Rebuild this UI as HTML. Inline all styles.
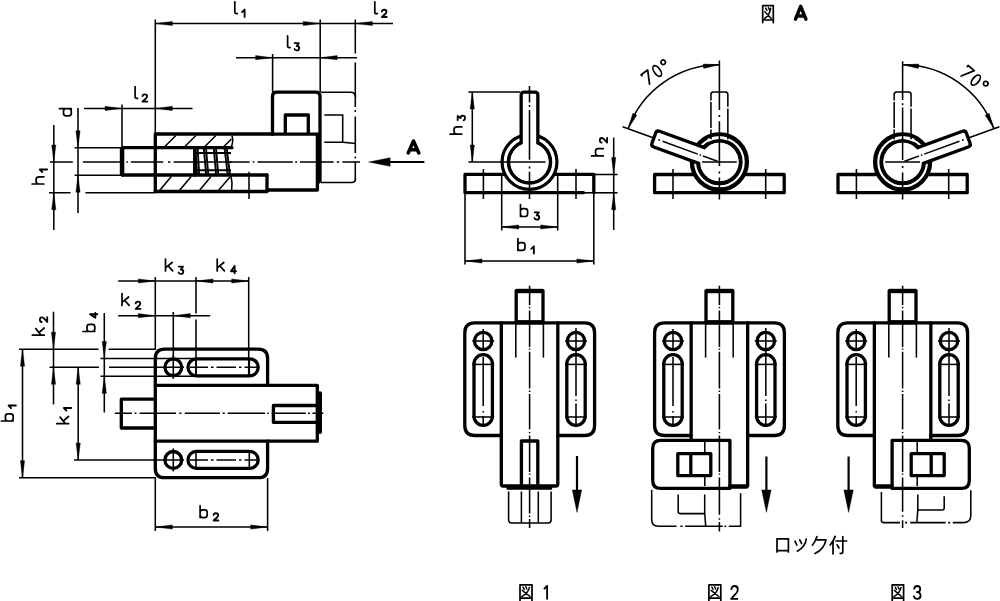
<!DOCTYPE html>
<html><head><meta charset="utf-8"><title>drawing</title>
<style>
html,body{margin:0;padding:0;background:#fff;}
svg{display:block}
.t{fill:none;stroke:#000;stroke-width:1.55}
.w{fill:none;stroke:#fff;stroke-width:3.2}
.t3{fill:none;stroke:#000;stroke-width:2.2}
.t2{fill:none;stroke:#000;stroke-width:1.9}
.k{fill:none;stroke:#000;stroke-width:3.3;stroke-linejoin:round;stroke-linecap:round}
.kc{fill:none;stroke:#000}
.kw{fill:#fff;stroke:#000;stroke-width:3.3;stroke-linejoin:round}
.k4r{fill:none;stroke:#000;stroke-width:4;stroke-linecap:round}
.k4{fill:none;stroke:#000;stroke-width:4.4;stroke-linecap:butt}
.a{fill:#000;stroke:#000;stroke-width:0.4;stroke-linejoin:round}
.g{fill:none;stroke:#000;stroke-width:1.7;stroke-linecap:round;stroke-linejoin:round}
.gd{fill:none;stroke:#000;stroke-width:1.85;stroke-linecap:round;stroke-linejoin:round}
.g7{fill:none;stroke:#000;stroke-width:1.7;stroke-linecap:round;stroke-linejoin:round}
.j{fill:none;stroke:#000;stroke-width:1.7;stroke-linecap:round;stroke-linejoin:round}
.j2{fill:none;stroke:#000;stroke-width:1.5;stroke-linecap:round;stroke-linejoin:round}
.A{fill:none;stroke:#000;stroke-width:3.5;stroke-linecap:round;stroke-linejoin:round}
.n{fill:none;stroke:#000;stroke-width:1.8;stroke-linecap:butt;stroke-linejoin:round}
</style></head>
<body>
<svg width="1000" height="601" viewBox="0 0 1000 601">
<rect width="1000" height="601" fill="#fff"/>
<g id="viewA">
<path class="t" d="M158.8,191.5L171.3,176.5M178.6,191.5L191.2,176.5M198.6,191.5L211,176.5M217.6,191.5L230,177M164.4,147L175.9,135.5M184.4,147L195.9,135.5M204.4,147L215.9,135.5M223.4,147L231.4,139"/>
<path class="t" d="M232,135.5Q233.8,142 230.8,148M230.8,175Q232.8,183 231.6,191"/>
<path class="t2" d="M194,153H231M194,170.3H231"/>
<path class="t2" d="M195.4,148L197.1,176M197.6,148L199.3,176M203.8,148L206.2,176M206,148L208.4,176M213.8,148L216.2,176M216,148L218.4,176M224.5,148L227.9,176M226.7,148L230.1,176"/>
<path class="t" d="M196,162L232,162"/>
<path class="k" d="M194.7,147.7V175"/>
<path class="k" d="M155.3,191.5V134H272.5"/>
<path class="k" d="M272.5,134V96.5Q272.5,92.2 276.8,92.2H315.7Q320,92.2 320,96.5V181"/>
<path class="k" d="M272.5,134.2H318"/>
<path class="k" d="M285.3,133.4V115H308.3V133.4"/>
<path class="k" d="M317.4,134.5V190H267V175"/>
<path class="k" d="M318.8,134.5V182"/>
<path class="k" d="M155.3,191.5H267"/>
<path class="k" d="M155.3,147.7H232M122.5,175H267"/>
<path class="k" d="M155.3,147.7H122.5V175"/>
<path class="k4" d="M122,147.7V175"/>
<path class="t" d="M249,171.7L249,199"/>
<path class="t" d="M321,92.2H350.5Q355.5,92.2 355.5,97.2"/>
<path class="t" d="M321,182.4H352Q355.5,182.4 355.5,178.5"/>
<path class="t" d="M324.3,115H342.7V142.4M324.3,142.2H343L355.5,143.5"/>
<path class="t" d="M355.3,19.5L355.3,53.5M355.3,62.5L355.3,107M355.3,110L355.3,112M355.3,116.5L355.3,153M355.3,156.5L355.3,158.5M355.3,161L355.3,179.5"/>
<path class="t" d="M49.9,162L72.8,162M82.9,162L120.8,162M126.4,162L127.9,162M130.9,162L163.2,162M168,162L170.4,162M173.6,162L193.6,162M229.6,162L249.6,162M252.8,162L254.4,162M257.6,162L292.8,162M295.2,162L297.1,162M300,162L333.6,162M336.8,162L339.2,162M342.4,162L360,162"/>
<path class="t" d="M155.3,23.5L393,23.5"/>
<polygon class="a" points="155.3,23.5 172.3,21.4 172.3,25.6"/>
<polygon class="a" points="320.2,23.5 303.2,25.6 303.2,21.4"/>
<polygon class="a" points="355.3,23.5 372.3,21.4 372.3,25.6"/>
<path class="t" d="M155.3,19.5L155.3,134"/>
<path class="t" d="M320.2,19.5L320.2,92"/>
<path class="t" d="M236,57.7L357,57.7"/>
<polygon class="a" points="272.6,57.7 255.6,59.8 255.6,55.6"/>
<polygon class="a" points="320.2,57.7 337.2,55.6 337.2,59.8"/>
<path class="t" d="M272.6,54L272.6,92"/>
<path class="t" d="M84,108.4L192.5,108.4"/>
<polygon class="a" points="122,108.4 105,110.5 105,106.3"/>
<polygon class="a" points="155.3,108.4 172.3,106.3 172.3,110.5"/>
<path class="t" d="M122,104.5L122,147"/>
<path class="t" d="M78,108L78,213"/>
<polygon class="a" points="78,147.7 75.9,130.7 80.1,130.7"/>
<polygon class="a" points="78,175.2 80.1,192.2 75.9,192.2"/>
<path class="t" d="M74.6,147.7L122,147.7"/>
<path class="t" d="M74.6,175.2L122,175.2"/>
<path class="t" d="M53.8,125L53.8,230"/>
<polygon class="a" points="53.8,162 51.7,145 55.9,145"/>
<polygon class="a" points="53.8,192.7 55.9,209.7 51.7,209.7"/>
<path class="t" d="M49,192.7H70.5M85.5,192.7H155"/>
<path class="t3" d="M380,162L424.4,162"/>
<polygon class="a" points="368.6,162 390.1,157.7 390.1,166.3"/>
<path class="g" transform="translate(234.8,13.6)" d="M0,-11.8V-1.8Q0,0 1.8,0H2.5"/>
<path class="gd" transform="translate(242,16.9)" d="M0,-4.8L2.6,-7.3V0"/>
<path class="g" transform="translate(374.8,13.7)" d="M0,-11.8V-1.8Q0,0 1.8,0H2.5"/>
<path class="gd" transform="translate(381.7,17)" d="M0.2,-5.5Q0.4,-7.3 2.5,-7.3Q4.8,-7.3 4.8,-5.3Q4.8,-4.1 3.5,-3L0.2,0H5"/>
<path class="g" transform="translate(287.6,47.6)" d="M0,-11.8V-1.8Q0,0 1.8,0H2.5"/>
<path class="gd" transform="translate(294.2,50.4)" d="M0.5,-7.3H4.7L2.5,-4.4Q5,-4.4 5,-2.2Q5,0 2.6,0Q0.9,0 0.3,-1.4"/>
<path class="g" transform="translate(135.1,98.4)" d="M0,-11.8V-1.8Q0,0 1.8,0H2.5"/>
<path class="gd" transform="translate(142.3,101.6)" d="M0.2,-5.5Q0.4,-7.3 2.5,-7.3Q4.8,-7.3 4.8,-5.3Q4.8,-4.1 3.5,-3L0.2,0H5"/>
<path class="g" transform="translate(71.3,115.8) rotate(-90)" d="M7.1,-11.8V0M7.1,-5.3Q7.1,-7.8 4.6,-7.8H2.6Q0,-7.8 0,-5.2V-2.6Q0,0 2.6,0H4.6Q7.1,0 7.1,-2.5"/>
<path class="g" transform="translate(43.9,184) rotate(-90)" d="M0,-11.8V0M0,-5Q0,-7.8 2.8,-7.8H4.4Q7.2,-7.8 7.2,-5V0"/>
<path class="gd" transform="translate(47.1,172.1) rotate(-90)" d="M0,-4.8L2.6,-7.3V0"/>
</g>
<g id="viewB">
<path class="t" d="M114.8,413.3L132,413.3M134.6,413.3L136.4,413.3M139.7,413.3L176,413.3M179.3,413.3L181.5,413.3M184.8,413.3L220,413.3M222.6,413.3L224.8,413.3M227.7,413.3L265.1,413.3M267.3,413.3L268.8,413.3M271.7,413.3L305.8,413.3M308,413.3L309.8,413.3M312.4,413.3L323.4,413.3"/>
<path class="t" d="M173.3,355.8L173.3,378.8"/>
<path class="t" d="M196,358.3L196,376.3"/>
<path class="t" d="M249.3,358.3L249.3,376.3"/>
<path class="t" d="M190,367.3L208,367.3M211,367.3L213.5,367.3M216.5,367.3L236,367.3M239,367.3L241.5,367.3M244.5,367.3L259,367.3"/>
<path class="t" d="M173.3,448.4L173.3,471.4"/>
<path class="t" d="M196,450.9L196,468.9"/>
<path class="t" d="M249.3,450.9L249.3,468.9"/>
<path class="t" d="M190,459.9L208,459.9M211,459.9L213.5,459.9M216.5,459.9L236,459.9M239,459.9L241.5,459.9M244.5,459.9L259,459.9"/>
<path class="t" d="M118.2,281L248.7,281"/>
<polygon class="a" points="155.3,281 138.3,283.1 138.3,278.9"/>
<polygon class="a" points="196,281 213,278.9 213,283.1"/>
<polygon class="a" points="248.7,281 231.7,283.1 231.7,278.9"/>
<path class="t" d="M155.3,277L155.3,350"/>
<path class="t" d="M196,277V313.5M196,319.5V376.5"/>
<path class="t" d="M248.7,277L248.7,376.5"/>
<path class="t" d="M118.2,315.7L210.2,315.7"/>
<polygon class="a" points="155.3,315.7 138.3,317.8 138.3,313.6"/>
<polygon class="a" points="173.3,315.7 190.3,313.6 190.3,317.8"/>
<path class="t" d="M173.3,312L173.3,357"/>
<path class="t" d="M22.5,349.2L22.5,477.7"/>
<polygon class="a" points="22.5,349.2 24.6,366.2 20.4,366.2"/>
<polygon class="a" points="22.5,477.7 20.4,460.7 24.6,460.7"/>
<path class="t" d="M19,349.2H98.5M108.5,349.2H156"/>
<path class="t" d="M19,477.7L156,477.7"/>
<path class="t" d="M53.5,311.7L53.5,404.4"/>
<polygon class="a" points="53.5,349.2 51.4,332.2 55.6,332.2"/>
<polygon class="a" points="53.5,367.3 55.6,384.3 51.4,384.3"/>
<path class="t" d="M49.5,367.3H99M109,367.3H184"/>
<path class="t" d="M78.2,367.3L78.2,460"/>
<polygon class="a" points="78.2,367.3 80.3,384.3 76.1,384.3"/>
<polygon class="a" points="78.2,460 76.1,443 80.3,443"/>
<path class="t" d="M74,460L184,460"/>
<path class="t" d="M104.3,313L104.3,412.5"/>
<polygon class="a" points="104.3,358.4 102.2,341.4 106.4,341.4"/>
<polygon class="a" points="104.3,376.3 106.4,393.3 102.2,393.3"/>
<path class="t" d="M100.5,358.4L197,358.4"/>
<path class="t" d="M100.5,376.3L197,376.3"/>
<path class="t" d="M155.3,478L155.3,531"/>
<path class="t" d="M267.6,478L267.6,531"/>
<path class="t" d="M155.3,527L267.6,527"/>
<polygon class="a" points="155.3,527 172.3,524.9 172.3,529.1"/>
<polygon class="a" points="267.6,527 250.6,529.1 250.6,524.9"/>
<path class="k" d="M155.3,385.3V358.5Q155.3,349.2 164.6,349.2H258.3Q267.6,349.2 267.6,358.5V385.3"/>
<path class="k" d="M155.3,441.2V468.4Q155.3,477.7 164.6,477.7H258.3Q267.6,477.7 267.6,468.4V441.2"/>
<path class="k" d="M155.3,385.3H317.3V441.2H155.3Z"/>
<path class="k4r" d="M320,393.2V432"/>
<path class="k" d="M155.3,399.2H121.3V428H155.3"/>
<path class="k" d="M317.3,405.5H273.4V422.3H317.3"/>
<circle class="k" cx="173.3" cy="367.3" r="8.4"/>
<rect class="k" x="188" y="358.8" width="70.2" height="17" rx="8.5"/>
<circle class="k" cx="173.3" cy="459.9" r="8.4"/>
<rect class="k" x="188" y="451.4" width="70.2" height="17" rx="8.5"/>
<path class="g" transform="translate(165.5,270.9)" d="M0,-11.8V0M6.6,-8.4L0,-3.1M2.5,-5.2L7.2,0"/>
<path class="gd" transform="translate(178.3,273.9)" d="M0.5,-7.3H4.7L2.5,-4.4Q5,-4.4 5,-2.2Q5,0 2.6,0Q0.9,0 0.3,-1.4"/>
<path class="g" transform="translate(217.2,270.9)" d="M0,-11.8V0M6.6,-8.4L0,-3.1M2.5,-5.2L7.2,0"/>
<path class="gd" transform="translate(230.8,273.2)" d="M3.8,0V-7.3L0.2,-2H5.2"/>
<path class="g" transform="translate(122,305.4)" d="M0,-11.8V0M6.6,-8.4L0,-3.1M2.5,-5.2L7.2,0"/>
<path class="gd" transform="translate(135.5,308.9)" d="M0.2,-5.5Q0.4,-7.3 2.5,-7.3Q4.8,-7.3 4.8,-5.3Q4.8,-4.1 3.5,-3L0.2,0H5"/>
<path class="g" transform="translate(44.2,335.2) rotate(-90)" d="M0,-11.8V0M6.6,-8.4L0,-3.1M2.5,-5.2L7.2,0"/>
<path class="gd" transform="translate(47.2,322.2) rotate(-90)" d="M0.2,-5.5Q0.4,-7.3 2.5,-7.3Q4.8,-7.3 4.8,-5.3Q4.8,-4.1 3.5,-3L0.2,0H5"/>
<path class="g" transform="translate(94.8,331.5) rotate(-90)" d="M0,-11.8V0M0,-5.3Q0,-7.8 2.5,-7.8H4.5Q7.1,-7.8 7.1,-5.2V-2.6Q7.1,0 4.5,0H2.5Q0,0 0,-2.5"/>
<path class="gd" transform="translate(97.3,318) rotate(-90)" d="M3.8,0V-7.3L0.2,-2H5.2"/>
<path class="g" transform="translate(68.5,423.7) rotate(-90)" d="M0,-11.8V0M6.6,-8.4L0,-3.1M2.5,-5.2L7.2,0"/>
<path class="gd" transform="translate(71.2,410.6) rotate(-90)" d="M0,-4.8L2.6,-7.3V0"/>
<path class="g" transform="translate(13.2,421) rotate(-90)" d="M0,-11.8V0M0,-5.3Q0,-7.8 2.5,-7.8H4.5Q7.1,-7.8 7.1,-5.2V-2.6Q7.1,0 4.5,0H2.5Q0,0 0,-2.5"/>
<path class="gd" transform="translate(15.9,408.1) rotate(-90)" d="M0,-4.8L2.6,-7.3V0"/>
<path class="g" transform="translate(200.1,517.6)" d="M0,-11.8V0M0,-5.3Q0,-7.8 2.5,-7.8H4.5Q7.1,-7.8 7.1,-5.2V-2.6Q7.1,0 4.5,0H2.5Q0,0 0,-2.5"/>
<path class="gd" transform="translate(213.4,520.5)" d="M0.2,-5.5Q0.4,-7.3 2.5,-7.3Q4.8,-7.3 4.8,-5.3Q4.8,-4.1 3.5,-3L0.2,0H5"/>
</g>
<g id="front1">
<path class="t" d="M483.4,169L483.4,199"/>
<path class="t" d="M576,169L576,199"/>
<path class="k" d="M503.5,174.4H465V192.7H583.5M593.8,192.7V174.4H555.5"/>
<path class="t" d="M583,192.8L593.8,192.8"/>
<circle class="kc" cx="529.5" cy="162" r="27.45" stroke-width="3.2"/>
<circle class="kc" cx="529.5" cy="162" r="20.9" stroke-width="3.7"/>
<g transform="translate(529.5,162) rotate(-90)">
<path class="kw" d="M0,-8.35H66.8Q69.8,-8.35 69.8,-5.35V5.35Q69.8,8.35 66.8,8.35H0Z"/>
</g>
<circle cx="529.5" cy="162" r="19.099999999999998" fill="#fff"/>
<path class="t" d="M529.5,86L529.5,102.5M529.5,105L529.5,107M529.5,110L529.5,159.8M529.5,166.5L529.5,168.5M529.5,171.7L529.5,199"/>
<path class="t" d="M468.4,162L545.5,162"/>
<path class="t" d="M468.4,92L520,92"/>
<path class="t" d="M472.3,92L472.3,162"/>
<polygon class="a" points="472.3,92 474.4,109 470.2,109"/>
<polygon class="a" points="472.3,162 470.2,145 474.4,145"/>
<path class="t" d="M501.7,176L501.7,230.5"/>
<path class="t" d="M557.7,176L557.7,230.5"/>
<path class="t" d="M501.7,227L557.7,227"/>
<polygon class="a" points="501.7,227 518.7,224.9 518.7,229.1"/>
<polygon class="a" points="557.7,227 540.7,229.1 540.7,224.9"/>
<path class="t" d="M465,194L465,264.5"/>
<path class="t" d="M593.8,194L593.8,264.5"/>
<path class="t" d="M465,261L593.8,261"/>
<polygon class="a" points="465,261 482,258.9 482,263.1"/>
<polygon class="a" points="593.8,261 576.8,263.1 576.8,258.9"/>
<path class="t" d="M613.7,137.5L613.7,230"/>
<polygon class="a" points="613.7,174.5 611.6,157.5 615.8,157.5"/>
<polygon class="a" points="613.7,192.8 615.8,209.8 611.6,209.8"/>
<path class="t" d="M594,174.5L617.6,174.5"/>
<path class="t" d="M594,192.8L617.6,192.8"/>
<path class="g" transform="translate(461.8,134.1) rotate(-90)" d="M0,-11.8V0M0,-5Q0,-7.8 2.8,-7.8H4.4Q7.2,-7.8 7.2,-5V0"/>
<path class="gd" transform="translate(465,120.6) rotate(-90)" d="M0.5,-7.3H4.7L2.5,-4.4Q5,-4.4 5,-2.2Q5,0 2.6,0Q0.9,0 0.3,-1.4"/>
<path class="g" transform="translate(603.3,155.9) rotate(-90)" d="M0,-11.8V0M0,-5Q0,-7.8 2.8,-7.8H4.4Q7.2,-7.8 7.2,-5V0"/>
<path class="gd" transform="translate(607.1,142.8) rotate(-90)" d="M0.2,-5.5Q0.4,-7.3 2.5,-7.3Q4.8,-7.3 4.8,-5.3Q4.8,-4.1 3.5,-3L0.2,0H5"/>
<path class="g" transform="translate(520.5,216.5)" d="M0,-11.8V0M0,-5.3Q0,-7.8 2.5,-7.8H4.5Q7.1,-7.8 7.1,-5.2V-2.6Q7.1,0 4.5,0H2.5Q0,0 0,-2.5"/>
<path class="gd" transform="translate(534.2,219.6)" d="M0.5,-7.3H4.7L2.5,-4.4Q5,-4.4 5,-2.2Q5,0 2.6,0Q0.9,0 0.3,-1.4"/>
<path class="g" transform="translate(517.9,250.4)" d="M0,-11.8V0M0,-5.3Q0,-7.8 2.5,-7.8H4.5Q7.1,-7.8 7.1,-5.2V-2.6Q7.1,0 4.5,0H2.5Q0,0 0,-2.5"/>
<path class="gd" transform="translate(531.3,253.6)" d="M0,-4.8L2.6,-7.3V0"/>
</g>
<g id="front2">
<path class="t" d="M673,169L673,199"/>
<path class="t" d="M765.7,169L765.7,199"/>
<path class="k" d="M693.4,174.5H654.6V192.7H784.2V174.5H745.4"/>
<circle class="kc" cx="719.4" cy="162" r="27.5" stroke-width="4.3"/>
<circle class="kc" cx="719.4" cy="162" r="21.2" stroke-width="4.1"/>
<path class="w" d="M707.94,140.46A24.4,24.4 0 0 1 727.34,138.93"/>
<g transform="translate(719.4,162) rotate(-160)">
<path class="kw" d="M0,-8.35H66.8Q69.8,-8.35 69.8,-5.35V5.35Q69.8,8.35 66.8,8.35H0Z"/>
</g>
<circle cx="719.4" cy="162" r="19.2" fill="#fff"/>
<path class="t" d="M710.95,139.2V129.6M710.95,128V102M710.95,100.4V94.5Q710.95,92 713.45,92H725.35Q727.85,92 727.85,94.5V106.8M727.85,108.6V139.2"/>
<path class="t" d="M719.4,60.5L719.4,110M719.4,115L719.4,117M719.4,121.3L719.4,166M719.4,171.5L719.4,173.5M719.4,177.5L719.4,199.5"/>
<path class="t" d="M702,162L736.8,162"/>
<path class="t" d="M717.52,161.32L702.96,156.01M700.98,155.3L699.67,154.82M697.79,154.13L662.55,141.31M659.92,140.35L658.32,139.77M653.06,137.85L622.61,126.77"/>
<path class="t" d="M719.4,64.8A97.2,97.2 0 0 0 628.06,128.76"/>
<polygon class="a" points="719.4,64.8 703.65,68.39 703.27,64"/>
<polygon class="a" points="628.06,128.76 632.83,113.32 636.82,115.18"/>
</g>
<g id="front3">
<path class="t" d="M856.4,169L856.4,199"/>
<path class="t" d="M948.7,169L948.7,199"/>
<path class="k" d="M876.6,174.5H838V192.7H967.2V174.5H928.6"/>
<circle class="kc" cx="902.6" cy="162" r="27.5" stroke-width="4.3"/>
<circle class="kc" cx="902.6" cy="162" r="21.2" stroke-width="4.1"/>
<path class="w" d="M914.06,140.46A24.4,24.4 0 0 0 894.66,138.93"/>
<g transform="translate(902.6,162) rotate(-20)">
<path class="kw" d="M0,-8.35H66.8Q69.8,-8.35 69.8,-5.35V5.35Q69.8,8.35 66.8,8.35H0Z"/>
</g>
<circle cx="902.6" cy="162" r="19.2" fill="#fff"/>
<path class="t" d="M894.15,139.2V129.6M894.15,128V102M894.15,100.4V94.5Q894.15,92 896.65,92H908.55Q911.05,92 911.05,94.5V106.8M911.05,108.6V139.2"/>
<path class="t" d="M902.6,61.2L902.6,100M902.6,103.2L902.6,105.2M902.6,107.5L902.6,160M902.6,166L902.6,168M902.6,172.5L902.6,199.5"/>
<path class="t" d="M885.2,162L920,162"/>
<path class="t" d="M904.48,161.32L919.04,156.01M921.02,155.3L922.33,154.82M924.21,154.13L959.45,141.31M962.08,140.35L963.68,139.77M968.94,137.85L999.39,126.77"/>
<path class="t" d="M902.6,64.8A97.2,97.2 0 0 1 993.94,128.76"/>
<polygon class="a" points="902.6,64.8 918.73,64 918.35,68.39"/>
<polygon class="a" points="993.94,128.76 985.18,115.18 989.17,113.32"/>
</g>
<g transform="translate(657.2,71) rotate(-35)">
<path class="g7" d="M-15.3,-4.9V-6.2L-7.2,-6.3L-13.8,6.3"/>
<ellipse class="g7" cx="0" cy="0" rx="3.1" ry="6.1"/>
<circle class="g7" cx="9.9" cy="-3.7" r="2.3"/>
</g>
<g transform="translate(975.8,80.1) rotate(40)">
<path class="g7" d="M-15.3,-4.9V-6.2L-7.2,-6.3L-13.8,6.3"/>
<ellipse class="g7" cx="0" cy="0" rx="3.1" ry="6.1"/>
<circle class="g7" cx="9.9" cy="-3.7" r="2.3"/>
</g>
<g id="bot1">
<path class="t" d="M472.2,341L494.2,341"/>
<path class="t" d="M472.2,364.4L494.2,364.4"/>
<path class="t" d="M472.2,417L494.2,417"/>
<path class="t" d="M483.2,329L483.2,350.5"/>
<path class="t" d="M483.2,357L483.2,406M483.2,411L483.2,412.5M483.2,416L483.2,427"/>
<path class="t" d="M565,341L587,341"/>
<path class="t" d="M565,364.4L587,364.4"/>
<path class="t" d="M565,417L587,417"/>
<path class="t" d="M576,328L576,396M576,399.5L576,401M576,403.5L576,426.5"/>
<path class="t" d="M515.8,322.9L515.8,357.6"/>
<path class="t" d="M543.4,322.9L543.4,357.6"/>
<path class="k" d="M501.3,435.5H474.8Q464.8,435.5 464.8,425.5V332.9Q464.8,322.9 474.8,322.9H584.6Q594.6,322.9 594.6,332.9V425.5Q594.6,435.5 584.6,435.5H557.8"/>
<path class="k" d="M516.2,322.9V290.6H543V322.9"/>
<path class="k4" d="M516.2,291H543"/>
<path class="k4" d="M516.2,322.29999999999995H543"/>
<circle class="k" cx="483.2" cy="341" r="8.7"/>
<rect class="k" x="474" y="354.6" width="18.4" height="70.8" rx="9.2"/>
<circle class="k" cx="576" cy="341" r="8.7"/>
<rect class="k" x="566.8" y="354.6" width="18.4" height="70.8" rx="9.2"/>
<path class="k" d="M501.3,322.9V484Q501.3,486 503.3,486H555.8Q557.8,486 557.8,484V322.9"/>
<path class="k4" d="M506.6,487.6H552.1"/>
<path class="k" d="M521.4,486V441H537.8V486"/>
<path class="t" d="M508.6,491.5V520Q508.6,523 511.6,523H548.1Q551.1,523 551.1,520V491.5M521.4,491.5V523M538.3,491.5V523"/>
<path class="t" d="M529.6,285.8L529.6,305.3M529.6,306.9L529.6,308.3M529.6,310.5L529.6,346.9M529.6,348.4L529.6,349.8M529.6,351.8L529.6,388.4M529.6,390.6L529.6,392M529.6,394L529.6,429.2M529.6,431.9L529.6,433.3M529.6,435.5L529.6,471.9M529.6,473.4L529.6,474.8M529.6,477.5L529.6,513.4M529.6,515.6L529.6,517M529.6,519L529.6,528"/>
<path class="t3" d="M577,456L577,495"/>
<polygon class="a" points="577,512.4 572.3,489.9 581.7,489.9"/>
</g>
<g id="bot2">
<path class="t" d="M662,341L684,341"/>
<path class="t" d="M662,364.4L684,364.4"/>
<path class="t" d="M662,417L684,417"/>
<path class="t" d="M673,329L673,350.5"/>
<path class="t" d="M673,357L673,406M673,411L673,412.5M673,416L673,427"/>
<path class="t" d="M754.8,341L776.8,341"/>
<path class="t" d="M754.8,364.4L776.8,364.4"/>
<path class="t" d="M754.8,417L776.8,417"/>
<path class="t" d="M765.8,328L765.8,396M765.8,399.5L765.8,401M765.8,403.5L765.8,426.5"/>
<path class="t" d="M705.6,322.9L705.6,357.6"/>
<path class="t" d="M733.2,322.9L733.2,357.6"/>
<path class="k" d="M691.1,435.5H664.6Q654.6,435.5 654.6,425.5V332.9Q654.6,322.9 664.6,322.9H774.4Q784.4,322.9 784.4,332.9V425.5Q784.4,435.5 774.4,435.5H747.6"/>
<path class="k" d="M706,322.9V290.6H732.8V322.9"/>
<path class="k4" d="M706,291H732.8"/>
<path class="k4" d="M706,322.29999999999995H732.8"/>
<circle class="k" cx="673" cy="341" r="8.7"/>
<rect class="k" x="663.8" y="354.6" width="18.4" height="70.8" rx="9.2"/>
<circle class="k" cx="765.8" cy="341" r="8.7"/>
<rect class="k" x="756.6" y="354.6" width="18.4" height="70.8" rx="9.2"/>
<path class="k" d="M691.15,322.9V440.3M747.65,322.9V486H729.9"/>
<path class="k" d="M746.4,487.2H731.4"/>
<path class="k" d="M729.9,440.3H660.7Q652.7,440.3 652.7,448.3V480.4Q652.7,488.4 660.7,488.4H729.9Z"/>
<path class="k" d="M677.8,453.6H710.8V475.6H677.8Z M690.8,453.6V475.6"/>
<path class="t" d="M704.8,442V452M704.8,477V486M704.7,494.4V513L705.7,526.2"/>
<path class="t" d="M651.7,489.8V519.7Q651.7,526.2 658.2,526.2H676.6M680.4,526.2H682.6M685,526.2H722.8M724.4,526.2H726.2M728.8,526.2H740.6"/>
<path class="t" d="M740.6,493.2L740.6,526.9"/>
<path class="t" d="M678.2,494.4V511.6Q678.2,513.6 680.2,513.6H704.7"/>
<path class="t" d="M719.4,285.8L719.4,305.3M719.4,306.9L719.4,308.3M719.4,310.5L719.4,346.9M719.4,348.4L719.4,349.8M719.4,351.8L719.4,388.4M719.4,390.6L719.4,392M719.4,394L719.4,429.2M719.4,431.9L719.4,433.3M719.4,435.5L719.4,471.9M719.4,473.4L719.4,474.8M719.4,477.5L719.4,514.8M719.4,518.3L719.4,519.7M719.4,522L719.4,531.6"/>
<path class="t3" d="M766.4,456.5L766.4,495"/>
<polygon class="a" points="766.4,512.4 761.7,489.9 771.1,489.9"/>
</g>
<g id="bot3">
<path class="t" d="M845.2,341L867.2,341"/>
<path class="t" d="M845.2,364.4L867.2,364.4"/>
<path class="t" d="M845.2,417L867.2,417"/>
<path class="t" d="M856.2,329L856.2,350.5"/>
<path class="t" d="M856.2,357L856.2,406M856.2,411L856.2,412.5M856.2,416L856.2,427"/>
<path class="t" d="M938,341L960,341"/>
<path class="t" d="M938,364.4L960,364.4"/>
<path class="t" d="M938,417L960,417"/>
<path class="t" d="M949,328L949,396M949,399.5L949,401M949,403.5L949,426.5"/>
<path class="t" d="M888.8,322.9L888.8,357.6"/>
<path class="t" d="M916.4,322.9L916.4,357.6"/>
<path class="k" d="M874.3,435.5H847.8Q837.8,435.5 837.8,425.5V332.9Q837.8,322.9 847.8,322.9H957.6Q967.6,322.9 967.6,332.9V425.5Q967.6,435.5 957.6,435.5H930.8"/>
<path class="k" d="M889.2,322.9V290.6H916V322.9"/>
<path class="k4" d="M889.2,291H916"/>
<path class="k4" d="M889.2,322.29999999999995H916"/>
<circle class="k" cx="856.2" cy="341" r="8.7"/>
<rect class="k" x="847" y="354.6" width="18.4" height="70.8" rx="9.2"/>
<circle class="k" cx="949" cy="341" r="8.7"/>
<rect class="k" x="939.8" y="354.6" width="18.4" height="70.8" rx="9.2"/>
<path class="k" d="M930.85,322.9V440.3M874.35,322.9V486H892.1"/>
<path class="k" d="M875.6,487.2H890.6"/>
<path class="k" d="M892.1,440.3H961.3Q969.3,440.3 969.3,448.3V480.4Q969.3,488.4 961.3,488.4H892.1Z"/>
<path class="k" d="M911.2,453.6H944.2V475.6H911.2Z M931.2,453.6V475.6"/>
<path class="t" d="M917.2,442V452M917.2,477V486M917.8,494.4V510L916.8,522.6"/>
<path class="t" d="M970.8,490.2V515.6Q970.8,522.6 963.8,522.6H952.8M950.2,522.6H948.2M945.6,522.6H910.2M907,522.6H905M900,522.6H883.4Q881.4,522.6 881.4,520.6V492"/>
<path class="t" d="M944.2,496.2V508Q944.2,510 942.2,510H917.8"/>
<path class="t" d="M902.6,285.8L902.6,305.3M902.6,306.9L902.6,308.3M902.6,310.5L902.6,346.9M902.6,348.4L902.6,349.8M902.6,351.8L902.6,388.4M902.6,390.6L902.6,392M902.6,394L902.6,429.2M902.6,431.9L902.6,433.3M902.6,435.5L902.6,471.9M902.6,473.4L902.6,474.8M902.6,477.5L902.6,511.8M902.6,515.3L902.6,516.7M902.6,520.2L902.6,528"/>
<path class="t3" d="M848.6,456.5L848.6,495"/>
<polygon class="a" points="848.6,512.4 843.9,489.9 853.3,489.9"/>
</g>
<path class="j" d="M520,600.7V584.8H532V600.7M520,598.1H532"/>
<path class="j2" d="M522.2,590.39L530,596.5M529.4,587.4Q528.4,593.05 521.8,596.7M523,587.2L524.2,589.4M525.8,586.8L526.8,589"/>
<path class="j" d="M708.9,600.7V584.8H720.8V600.7M708.9,598.1H720.8"/>
<path class="j2" d="M711.1,590.39L718.8,596.5M718.2,587.4Q717.2,593.05 710.7,596.7M711.9,587.2L713.1,589.4M714.7,586.8L715.7,589"/>
<path class="j" d="M892.2,600.7V584.8H903.6V600.7M892.2,598.1H903.6"/>
<path class="j2" d="M894.4,590.39L901.6,596.5M901,587.4Q900,593.05 894,596.7M895.2,587.2L896.4,589.4M898,586.8L899,589"/>
<path class="j" d="M762.7,22.6V5.7H773.3V22.6M762.7,20H773.3"/>
<path class="j2" d="M764.9,11.71L771.3,18.4M770.7,8.3Q769.7,14.57 764.5,18.6M765.7,8.1L766.9,10.3M768.5,7.7L769.5,9.9"/>
<path class="n" transform="translate(543.7,585.6)" d="M0.2,3.6L3.4,0.2V14"/>
<path class="n" transform="translate(731.1,586)" d="M0.2,3.9Q0.4,0 3.5,0Q6.7,0 6.7,3.4Q6.7,5.8 4.3,8.2L0,12.8H7"/>
<path class="n" transform="translate(913.8,586)" d="M0.2,3.4Q0.6,0 3.4,0Q6.4,0 6.4,3.2Q6.4,6 3,6.2Q6.8,6.4 6.8,9.6Q6.8,12.9 3.4,12.9Q0.4,12.9 0,9.6"/>
<path class="A" d="M795.5,19.2L800.7,6.3L805.9,19.2M797.6,15.9H803.8"/>
<path class="A" d="M408.2,153L413.5,141L418.8,153M410,149.8H417"/>
<path class="j" d="M777,552V538.8H788.4V552M777,550.6H788.4"/>
<path class="j" d="M795,541.2L796.8,545M799.8,539.8L801.6,543.6M806.2,539Q805.6,546.5 797.4,551.2"/>
<path class="j" d="M817,536.6Q815.6,541.4 812.4,545.2M816.4,539.8H826Q824.4,548.8 815,553.6"/>
<path class="j" d="M835.2,536.4Q833.6,541 830.2,545M833,541.6V554M836,541H846.6M842.8,536.6V552Q842.8,553.8 840.2,553.4M837.2,544.8L839,548"/>
</svg>
</body></html>
